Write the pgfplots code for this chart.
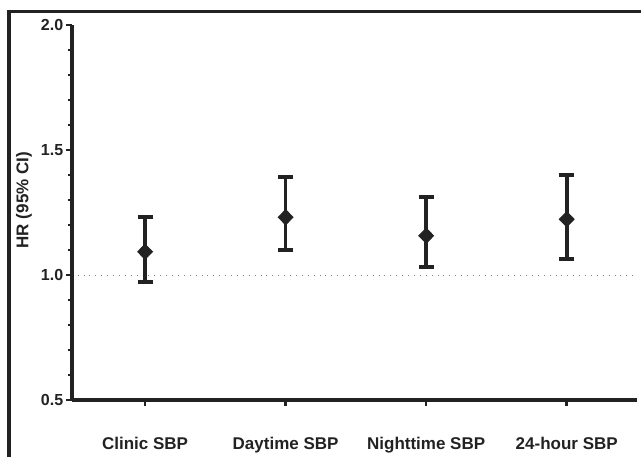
\documentclass[border=0pt]{standalone}
\usepackage{fontspec}
\setmainfont{Liberation Sans}
\usepackage{pgfplots}
\pgfplotsset{compat=1.18}
\definecolor{ink}{RGB}{34,34,34}

\begin{document}
\begin{tikzpicture}
\useasboundingbox (-72pt,-56pt) rectangle (569pt,400pt);
\begin{axis}[
  name=ax,
  scale only axis,
  width=565pt, height=375pt,
  xmin=-0.52, xmax=3.5,
  ymin=0.5, ymax=2.0,
  line width=3.6pt,
  axis x line*=bottom, axis y line*=left,
  axis line style={line width=3.6pt, draw=ink},
  xtick={0,1,2,3},
  xticklabels={Clinic SBP, Daytime SBP, Nighttime SBP, 24-hour SBP},
  ytick={0.5,1.0,1.5,2.0},
  minor y tick num=4,
  /pgf/number format/fixed,
  /pgf/number format/fixed zerofill,
  /pgf/number format/precision=1,
  /pgf/number format/assume math mode=true,
  tick align=outside,
  major tick length=6pt, minor tick length=4pt,
  every tick/.append style={line width=2.6pt, draw=ink},
  every tick label/.append style={text=ink, font=\fontsize{16}{18}\selectfont\bfseries},
  xticklabel style={font=\fontsize{17}{19}\selectfont\bfseries, yshift=-26pt},
  yticklabel style={inner sep=1pt},
  ylabel={HR (95\% CI)},
  ylabel style={font=\fontsize{17}{19}\selectfont\bfseries, text=ink,
    at={(axis description cs:-0.085,0.533)}, anchor=center},
  clip=false,
]
\addplot[gray, line width=0.9pt, dash pattern=on 0.9pt off 5pt, forget plot]
  coordinates {(-0.48,1.0)(3.5,1.0)};
\addplot[only marks, mark=diamond*, mark size=7.5pt,
  mark options={ink, fill=ink, xscale=1.3, line width=1pt},
  error bars/.cd, y dir=both, y explicit,
  error bar style={line width=3.6pt, ink},
  error mark options={rotate=90, mark size=7.5pt, line width=3.6pt, ink}]
coordinates {
  (0,1.093) += (0,0.138) -= (0,0.121)
  (1,1.231) += (0,0.162) -= (0,0.131)
  (2,1.157) += (0,0.154) -= (0,0.126)
  (3,1.223) += (0,0.178) -= (0,0.160)
};
\end{axis}
\draw[line width=3.5pt, ink] (-63pt,-80pt) -- (-63pt,388.5pt) -- (620pt,388.5pt);
\end{tikzpicture}
\end{document}
